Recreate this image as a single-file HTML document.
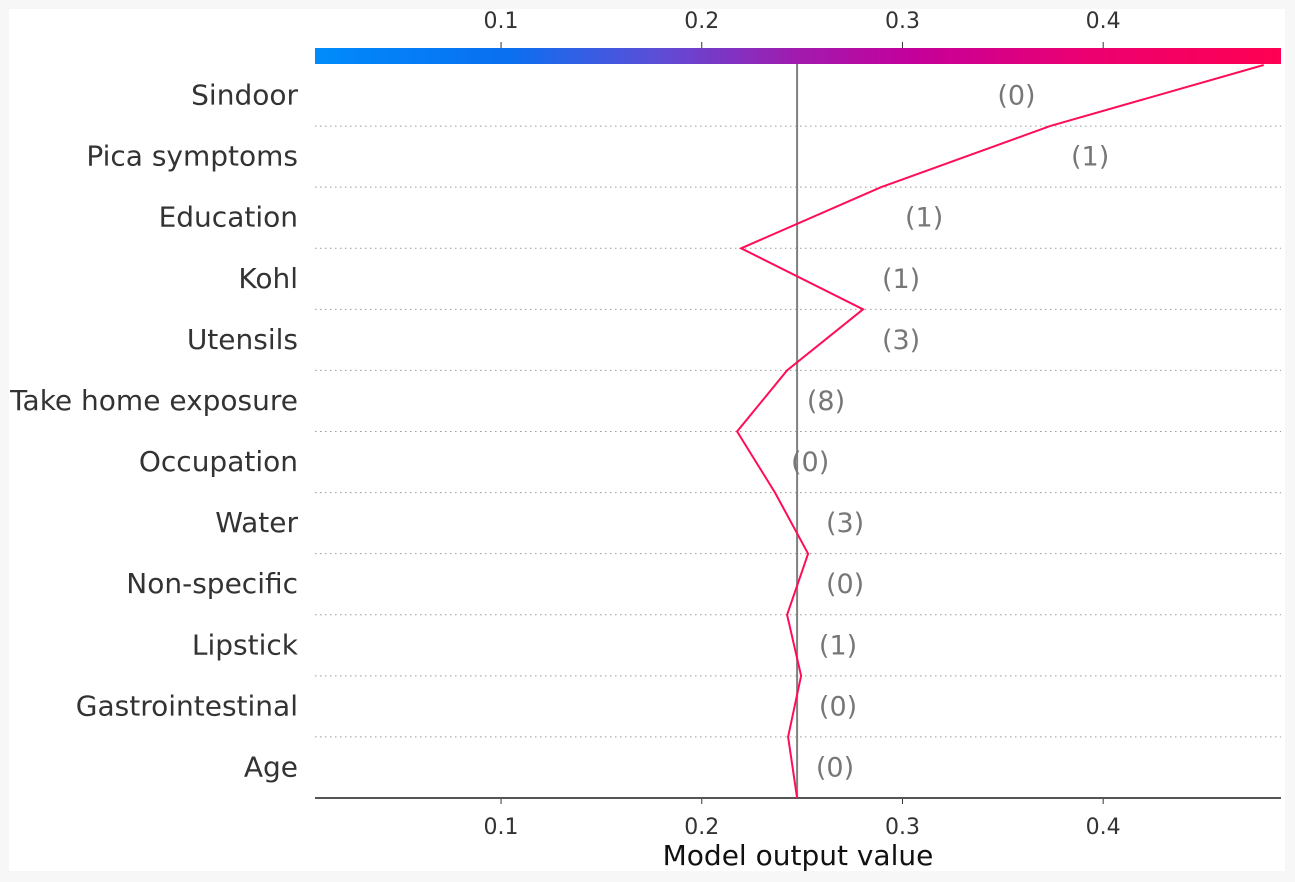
<!DOCTYPE html>
<html><head><meta charset="utf-8">
<style>
html,body{margin:0;padding:0;background:#f7f7f7;}
#wrap{position:relative;width:1295px;height:882px;overflow:hidden;}
svg text{font-family:"DejaVu Sans","Liberation Sans",sans-serif;}
</style></head>
<body>
<div id="wrap">
<svg id="chart" width="1295" height="882" xmlns="http://www.w3.org/2000/svg">
<defs>
<linearGradient id="cbar" x1="0" x2="1" y1="0" y2="0">
<stop offset="0" stop-color="#008bfb"/>
<stop offset="0.2" stop-color="#0a6ff0"/>
<stop offset="0.35" stop-color="#5a4fd8"/>
<stop offset="0.5" stop-color="#a21aae"/>
<stop offset="0.62" stop-color="#c4009a"/>
<stop offset="0.8" stop-color="#ec0070"/>
<stop offset="1" stop-color="#ff0052"/>
</linearGradient>
</defs>
<rect x="9" y="9" width="1276" height="862" fill="#ffffff"/>
<g id="g"></g>
</svg>
</div>
<script>
const features = ["Sindoor","Pica symptoms","Education","Kohl","Utensils","Take home exposure","Occupation","Water","Non-specific","Lipstick","Gastrointestinal","Age"];
const featureValues = ["(0)","(1)","(1)","(1)","(3)","(8)","(0)","(3)","(0)","(1)","(0)","(0)"];
// cumulative model output at boundaries, from top (after Sindoor) to bottom (base value)
const cumulative = [0.480,0.3735,0.2893,0.2196,0.2804,0.2425,0.2176,0.2365,0.2530,0.2425,0.2495,0.2430,0.2475];
const baseValue = 0.2475;
const labelX = [0.3568,0.3935,0.3108,0.2993,0.2993,0.2619,0.254,0.2714,0.2714,0.2679,0.2679,0.2664];
const ticks = [0.1,0.2,0.3,0.4];
const tickLabels = ["0.1","0.2","0.3","0.4"];

const L=315,R=1281,TOP=65,BOT=798;
const xmin=0.0073,xmax=0.4886;
const rowH=(BOT-TOP)/features.length;
const X=v=>L+(v-xmin)/(xmax-xmin)*(R-L);
const Yb=i=>TOP+i*rowH;
const g=document.getElementById('g');
const NS='http://www.w3.org/2000/svg';
function mk(t,a,txt){const e=document.createElementNS(NS,t);for(const k in a)e.setAttribute(k,a[k]);if(txt!==undefined)e.textContent=txt;g.appendChild(e);return e;}

for(let i=1;i<features.length;i++){
  const e=mk('line',{x1:L,x2:R,y1:Yb(i),y2:Yb(i),stroke:'#999','stroke-width':1,'stroke-dasharray':'1.5,3.5'});
  
  
}
features.forEach((f,i)=>{
  const e=mk('text',{x:298,y:Yb(i)+rowH/2+9,'text-anchor':'end','font-size':28,fill:'#333'},f);
  
  
});
const cb=mk('rect',{x:L,y:48,width:R-L,height:16,fill:'url(#cbar)'});


const bl=mk('line',{x1:X(baseValue),x2:X(baseValue),y1:64,y2:BOT,stroke:'#808080','stroke-width':2});


ticks.forEach((t,i)=>{
  const a=mk('line',{x1:X(t),x2:X(t),y1:BOT,y2:BOT+6,stroke:'#333','stroke-width':1});
  
  
  const b=mk('text',{x:X(t),y:BOT+36,'text-anchor':'middle','font-size':22,fill:'#333'},tickLabels[i]);
  
  
  const c=mk('line',{x1:X(t),x2:X(t),y1:42,y2:48,stroke:'#333','stroke-width':1});
  
  
  const d=mk('text',{x:X(t),y:28,'text-anchor':'middle','font-size':22,fill:'#333'},tickLabels[i]);
  
  
});
const ax=mk('line',{x1:L,x2:R,y1:BOT,y2:BOT,stroke:'#555','stroke-width':2});


const xt=mk('text',{x:(L+R)/2,y:865,'text-anchor':'middle','font-size':28,fill:'#111'},'Model output value');


const pts=cumulative.map((v,i)=>X(v).toFixed(1)+','+Yb(i).toFixed(1)).join(' ');
const pl=mk('polyline',{points:pts,fill:'none',stroke:'#ff0d57','stroke-width':2,'stroke-linejoin':'miter'});


featureValues.forEach((v,i)=>{
  const e=mk('text',{x:X(labelX[i]),y:Yb(i)+rowH/2+9,'text-anchor':'middle','font-size':27,fill:'#777'},v);
  
  
});
</script>
</body></html>
